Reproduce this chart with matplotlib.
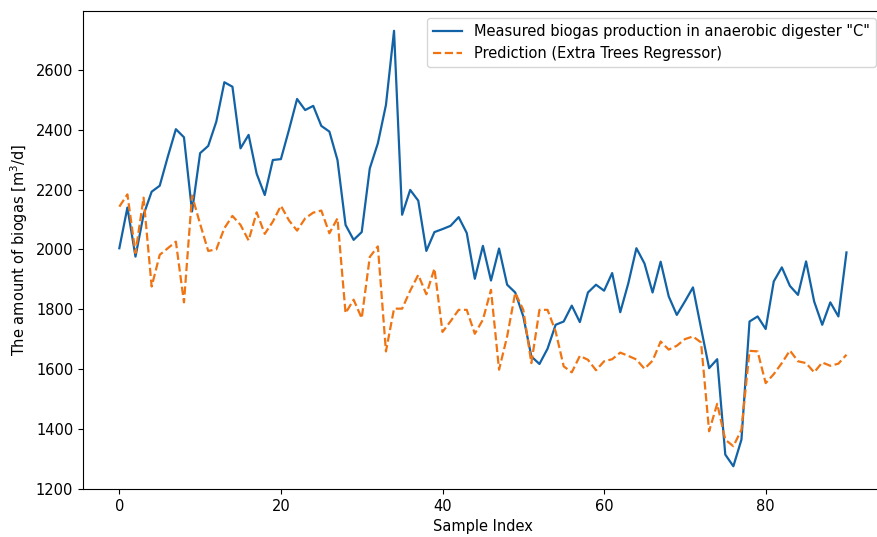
import numpy as np
import matplotlib
matplotlib.use("Agg")
import matplotlib.pyplot as plt

measured = [2004, 2140, 1976, 2116, 2193, 2213, 2310, 2402, 2375, 2127,
            2322, 2346, 2427, 2559, 2544, 2338, 2383, 2253, 2182, 2299,
            2302, 2400, 2503, 2466, 2480, 2413, 2394, 2299, 2082, 2032,
            2058, 2271, 2355, 2483, 2731, 2116, 2199, 2163, 1995, 2058,
            2068, 2079, 2108, 2055, 1902, 2012, 1896, 2003, 1882, 1856,
            1776, 1642, 1617, 1668, 1748, 1759, 1812, 1757, 1856, 1882,
            1862, 1921, 1790, 1887, 2004, 1953, 1856, 1959, 1843, 1781,
            1826, 1873, 1737, 1603, 1633, 1314, 1275, 1364, 1759, 1776,
            1734, 1893, 1940, 1878, 1848, 1960, 1826, 1748, 1823, 1776,
            1990]

predicted = [2143, 2184, 1988, 2173, 1876, 1982, 2004, 2026, 1823, 2180,
             2085, 1995, 2000, 2071, 2112, 2082, 2030, 2124, 2052, 2093,
             2146, 2097, 2063, 2104, 2123, 2130, 2054, 2104, 1787, 1832,
             1770, 1975, 2010, 1659, 1802, 1802, 1862, 1915, 1850, 1936,
             1724, 1760, 1798, 1798, 1718, 1765, 1865, 1598, 1709, 1855,
             1798, 1620, 1798, 1798, 1726, 1609, 1589, 1644, 1631, 1596,
             1626, 1633, 1655, 1644, 1632, 1601, 1628, 1692, 1665, 1678,
             1700, 1709, 1689, 1392, 1484, 1364, 1342, 1397, 1661, 1659,
             1553, 1583, 1620, 1662, 1626, 1620, 1589, 1622, 1611, 1618,
             1648]

x = np.arange(len(measured))

plt.rcParams['font.size'] = 10.5

fig = plt.figure(figsize=(8.78, 5.37), dpi=100)
# the reference is cropped on the right, so the axes run past the edge
ax = fig.add_axes([0.0945, 0.0894, 0.911, 0.890])

ax.plot(x, measured, color='#1262a6', linewidth=1.6,
        label='Measured biogas production in anaerobic digester "C"')
ax.plot(x, predicted, color='#f07412', linewidth=1.6, linestyle='--',
        label='Prediction (Extra Trees Regressor)')

ax.set_ylim(1199, 2797)
ax.spines['right'].set_visible(False)
ax.set_xlabel('Sample Index')
ax.set_ylabel('The amount of biogas [m$^3$/d]')
ax.legend(loc='upper right')

fig.savefig('out.png', dpi=100)
